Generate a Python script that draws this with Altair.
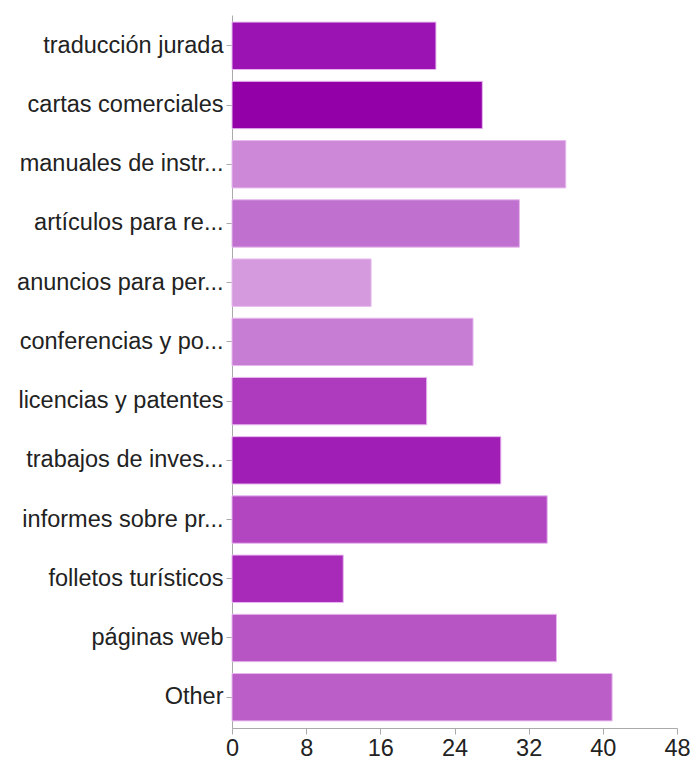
import altair as alt
import pandas as pd

categories = [
    "traducción jurada",
    "cartas comerciales",
    "manuales de instr...",
    "artículos para re...",
    "anuncios para per...",
    "conferencias y po...",
    "licencias y patentes",
    "trabajos de inves...",
    "informes sobre pr...",
    "folletos turísticos",
    "páginas web",
    "Other",
]
values = [22, 27, 36, 31, 15, 26, 21, 29, 34, 12, 35, 41]
colors = [
    "#9C13B4", "#9400A8", "#CD88D8", "#C070CE", "#D59ADD", "#C87DD4",
    "#AE3ABD", "#A01EB6", "#B246C1", "#A82AB9", "#B855C5", "#BC5EC8",
]
x_ticks = [0, 8, 16, 24, 32, 40, 48]

df = pd.DataFrame({"category": categories, "value": values, "color": colors})

chart = (
    alt.Chart(df)
    .mark_bar(stroke="#E6B8EE", strokeWidth=1)
    .encode(
        y=alt.Y(
            "category:N",
            sort=categories,
            title=None,
            scale=alt.Scale(paddingInner=0.2, paddingOuter=0.12),
            axis=alt.Axis(
                labelFontSize=23.5,
                labelFont="Liberation Sans",
                labelColor="#222222",
                labelPadding=3,
                tickSize=6,
                tickColor="#AAAAAA",
                domainColor="#AAAAAA",
                labelLimit=300,
            ),
        ),
        x=alt.X(
            "value:Q",
            title=None,
            scale=alt.Scale(domain=[0, 48], nice=False),
            axis=alt.Axis(
                values=x_ticks,
                grid=False,
                labelFontSize=23.5,
                labelFont="Liberation Sans",
                labelColor="#222222",
                labelPadding=2,
                tickSize=6,
                tickColor="#AAAAAA",
                domainColor="#AAAAAA",
                labelFlush=False,
            ),
        ),
        color=alt.Color("color:N", scale=None, legend=None),
    )
    .properties(
        width=445,
        height=713,
        autosize=alt.AutoSizeParams(type="none"),
        padding={"left": 224, "top": 7, "right": 14, "bottom": 35},
    )
    .configure_view(stroke=None)
)

chart.save("out.html", embed_options={"renderer": "svg", "actions": False})
